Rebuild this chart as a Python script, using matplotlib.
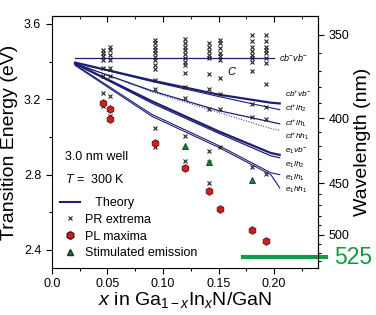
import matplotlib.pyplot as plt
from matplotlib.lines import Line2D
from matplotlib.ticker import FixedLocator, MultipleLocator

plt.rcParams["font.family"] = ["Liberation Sans", "DejaVu Sans"]
plt.rcParams["mathtext.fontset"] = "custom"
plt.rcParams["mathtext.rm"] = "Liberation Sans"
plt.rcParams["mathtext.it"] = "Liberation Sans:italic"

NAVY = "#1e1e74"
GREEN = "#119a44"
HC = 1239.84  # eV nm

# PR extrema, one column of energies per composition
pr_cols = {
    0.0465: [3.463, 3.447, 3.428, 3.41, 3.368, 3.323, 3.235, 3.165],
    0.0525: [3.48, 3.463, 3.437, 3.41, 3.368, 3.323, 3.217, 3.112],
    0.093: [3.516, 3.50, 3.48, 3.463, 3.447, 3.426, 3.41, 3.384, 3.363,
            3.305, 3.253, 3.047, 2.947],
    0.120: [3.52, 3.50, 3.48, 3.46, 3.44, 3.42, 3.40, 3.38, 3.34, 3.263,
            3.205, 3.007, 2.875],
    0.141: [3.50, 3.48, 3.454, 3.437, 3.42, 3.332, 3.253, 3.147, 2.928,
            2.868, 2.753],
    0.151: [3.516, 3.50, 3.472, 3.446, 3.428, 3.41, 3.314, 3.226, 3.147,
            2.945],
    0.180: [3.542, 3.507, 3.48, 3.454, 3.437, 3.42, 3.40, 3.35, 3.174,
            3.105, 2.842],
    0.193: [3.542, 3.507, 3.48, 3.463, 3.446, 3.42, 3.393, 3.28, 3.158,
            3.095, 2.805],
}

# PL maxima
pl_x = [0.0465, 0.0525, 0.0525, 0.093, 0.120, 0.141, 0.151, 0.180, 0.193]
pl_e = [3.18, 3.147, 3.097, 2.97, 2.835, 2.715, 2.616, 2.507, 2.447]

# stimulated emission
se_x = [0.120, 0.141, 0.180]
se_e = [2.954, 2.868, 2.77]

# theory curves
th_x = [0.021, 0.09, 0.15, 0.197, 0.205]
th_flat = 3.42
theory = [
    # label, energies, linewidth, style
    ("cb$^{+}$vb$^{-}$", [3.395, 3.30, 3.225, 3.182, 3.178], 1.6, "-"),
    ("ct$^{+}$lh$_2$", [3.395, 3.295, 3.215, 3.155, 3.145], 0.8, "-"),
    ("ct$^{+}$lh$_1$", [3.39, 3.245, 3.14, 3.08, 3.07], 0.9, "-"),
    ("ct$^{+}$hh$_1$", [3.39, 3.24, 3.13, 3.045, 3.035], 0.7, ":"),
    ("e$_1$vb$^{-}$", [3.39, 3.19, 3.03, 2.915, 2.905], 1.6, "-"),
    ("e$_1$lh$_2$", [3.39, 3.18, 3.02, 2.90, 2.89], 0.9, "-"),
    ("e$_1$lh$_1$", [3.385, 3.12, 2.955, 2.81, 2.80], 0.8, "-"),
    ("e$_1$hh$_1$", [3.38, 3.11, 2.945, 2.80, 2.73], 0.8, "-"),
]
label_e = [3.228, 3.152, 3.072, 3.003, 2.925, 2.852, 2.785, 2.72]

green_wl = 525
green_x = [0.17, 0.248]


def e2w(e):
    return HC / e


def w2e(w):
    return HC / w


fig = plt.figure(figsize=(3.76, 3.15), dpi=100)
ax = fig.add_axes([0.1375, 0.149, 0.7085, 0.8])

# theory
ax.plot([th_x[0], 0.2], [th_flat, th_flat], color=NAVY, lw=0.9)
ax.text(0.2045, th_flat, "cb$^{-}$vb$^{-}$", fontsize=6.5, va="center",
        style="italic")
ax.text(0.158, 3.345, "C", fontsize=8, va="center", style="italic")
for (lab, ev, lw, ls), ly in zip(theory, label_e):
    ax.plot(th_x, ev, color=NAVY, lw=lw, ls=ls)
    ax.text(0.21, ly, lab, fontsize=6, va="center", style="italic")

# data
for xv, evals in pr_cols.items():
    ax.plot([xv] * len(evals), evals, "x", color="#222222", ms=3.5, mew=0.8)
ax.plot(pl_x, pl_e, "h", color="#cc1f1f", mec="#5a0d0d", ms=5.5, mew=0.6)
ax.plot(se_x, se_e, "^", color="#16803a", mec="#0b3d1c", ms=4.5, mew=0.6)

# 525 nm marker
ax.plot(green_x, [w2e(green_wl)] * 2, color=GREEN, lw=3, clip_on=False,
        solid_capstyle="butt")
ax.text(1.06, w2e(green_wl), str(green_wl), transform=ax.get_yaxis_transform(),
        color=GREEN, fontsize=16.5, va="center", ha="left")

ax.set_xlim(0, 0.2395)
ax.set_ylim(2.304, 3.642)
ax.xaxis.set_major_locator(FixedLocator([0.0, 0.05, 0.10, 0.15, 0.20]))
ax.set_xticklabels(["0.0", "0.05", "0.10", "0.15", "0.20"])
ax.xaxis.set_minor_locator(MultipleLocator(0.025))
ax.yaxis.set_major_locator(MultipleLocator(0.4))
ax.yaxis.set_minor_locator(MultipleLocator(0.2))
ax.tick_params(which="major", length=4, width=0.8, labelsize=9)
ax.tick_params(which="minor", length=2.5, width=0.8)

top = ax.secondary_xaxis("top")
top.xaxis.set_major_locator(FixedLocator([0.0, 0.05, 0.10, 0.15, 0.20]))
top.xaxis.set_minor_locator(MultipleLocator(0.025))
top.tick_params(which="both", direction="in", labeltop=False)
top.tick_params(which="major", length=4)
top.tick_params(which="minor", length=2.5)

right = ax.secondary_yaxis("right", functions=(e2w, w2e))
right.yaxis.set_major_locator(FixedLocator([350, 400, 450, 500]))
right.yaxis.set_minor_locator(FixedLocator(range(350, 540, 10)))
right.tick_params(which="major", length=4, width=0.8, labelsize=9)
right.tick_params(which="minor", length=2.5, width=0.8)
right.set_ylabel("Wavelength (nm)", fontsize=14, labelpad=3)

ax.set_ylabel("Transition Energy (eV)", fontsize=14, labelpad=4)
ax.set_xlabel(r"$x$ in Ga$_{\mathrm{1-}x}$In$_{x}$N/GaN", fontsize=14,
              labelpad=0)

ax.text(0.05, 0.44, "3.0 nm well", transform=ax.transAxes, fontsize=9,
        va="center")
ax.text(0.05, 0.353, "$T$ =  300 K", transform=ax.transAxes, fontsize=9,
        va="center")

handles = [
    Line2D([], [], color=NAVY, lw=1.5),
    Line2D([], [], ls="", marker="x", color="#222222", ms=3.5, mew=0.8),
    Line2D([], [], ls="", marker="h", color="#cc1f1f", mec="#5a0d0d", ms=5.5),
    Line2D([], [], ls="", marker="^", color="#16803a", mec="#0b3d1c", ms=4.5),
]
labels = ["   Theory", "PR extrema", "PL maxima", "Stimulated emission"]
ax.legend(handles, labels, loc="lower left", bbox_to_anchor=(0.0, 0.0),
          frameon=False, handlelength=1.6, handletextpad=0.4,
          labelspacing=0.38, borderaxespad=0.3, prop={"size": 9})

fig.savefig("out.png", dpi=100)
